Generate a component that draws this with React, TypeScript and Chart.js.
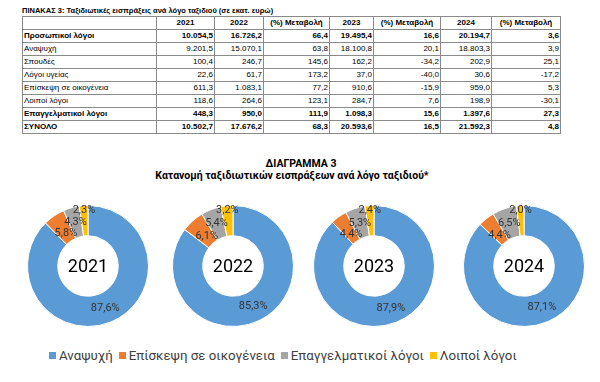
import React, { useEffect, useRef } from "react";
import { Chart, registerables } from "chart.js";

Chart.register(...registerables);

// ---------- Table data ----------
const tableTitle = "ΠΙΝΑΚΑΣ 3: Ταξιδιωτικές εισπράξεις ανά λόγο ταξιδιού (σε εκατ. ευρώ)";
const tableHeaders = ["", "2021", "2022", "(%) Μεταβολή", "2023", "(%) Μεταβολή", "2024", "(%) Μεταβολή"];
const rowLabels = [
  "Προσωπικοί λόγοι",
  "Αναψυχή",
  "Σπουδές",
  "Λόγοι υγείας",
  "Επίσκεψη σε οικογένεια",
  "Λοιποί λόγοι",
  "Επαγγελματικοί λόγοι",
  "ΣΥΝΟΛΟ",
];
const boldRows = [true, false, false, false, false, false, true, true];
const values2021 = ["10.054,5", "9.201,5", "100,4", "22,6", "611,3", "118,6", "448,3", "10.502,7"];
const values2022 = ["16.726,2", "15.070,1", "246,7", "61,7", "1.083,1", "264,6", "950,0", "17.676,2"];
const change2022 = ["66,4", "63,8", "145,6", "173,2", "77,2", "123,1", "111,9", "68,3"];
const values2023 = ["19.495,4", "18.100,8", "162,2", "37,0", "910,6", "284,7", "1.098,3", "20.593,6"];
const change2023 = ["16,6", "20,1", "-34,2", "-40,0", "-15,9", "7,6", "15,6", "16,5"];
const values2024 = ["20.194,7", "18.803,3", "202,9", "30,6", "959,0", "198,9", "1.397,6", "21.592,3"];
const change2024 = ["3,6", "3,9", "25,1", "-17,2", "5,3", "-30,1", "27,3", "4,8"];
const columnWidths = [134, 58, 49, 66, 44, 67, 51, 69];

// ---------- Chart data ----------
const chartTitle1 = "ΔΙΑΓΡΑΜΜΑ 3";
const chartTitle2 = "Κατανομή ταξιδιωτικών εισπράξεων ανά λόγο ταξιδιού*";
const categories = ["Αναψυχή", "Επίσκεψη σε οικογένεια", "Επαγγελματικοί λόγοι", "Λοιποί λόγοι"];
const colors = ["#5B9BD5", "#ED7D31", "#A5A5A5", "#FFC000"];
const years = ["2021", "2022", "2023", "2024"];
const share2021 = [87.6, 5.8, 4.3, 2.3];
const share2022 = [85.3, 6.1, 5.4, 3.2];
const share2023 = [87.9, 4.4, 5.3, 2.4];
const share2024 = [87.1, 4.4, 6.5, 2.0];
const shares = [share2021, share2022, share2023, share2024];
// radial position of each label within the ring (0 = inner edge, 1 = outer edge)
const labelRadial = [0.5, 0.3, 0.5, 0.85];
const centersX = [88, 233, 374, 524];
const centerY = 266;
const canvasSize = 150;
const ringPadding = 14;

const fmt = (v: number) => v.toFixed(1).replace(".", ",") + "%";

const labelPlugin = {
  id: "ringLabels",
  afterDraw(chart: any) {
    const ctx = chart.ctx;
    const meta = chart.getDatasetMeta(0);
    const data = chart.data.datasets[0].data as number[];
    ctx.save();
    ctx.font = "11px Roboto";
    ctx.fillStyle = "#333333";
    ctx.textAlign = "center";
    ctx.textBaseline = "middle";
    let cx = 0;
    let cy = 0;
    meta.data.forEach((arc: any, i: number) => {
      const p = arc.getProps(["x", "y", "startAngle", "endAngle", "innerRadius", "outerRadius"], true);
      cx = p.x;
      cy = p.y;
      const mid = (p.startAngle + p.endAngle) / 2;
      const r = p.innerRadius + labelRadial[i] * (p.outerRadius - p.innerRadius);
      ctx.fillText(fmt(data[i]), p.x + Math.cos(mid) * r, p.y + Math.sin(mid) * r);
    });
    ctx.font = "18px Roboto";
    ctx.fillStyle = "#000000";
    ctx.fillText(chart.options.plugins.centerText.text, cx, cy + 1);
    ctx.restore();
  },
};

function Donut({ index }: { index: number }) {
  const ref = useRef<HTMLCanvasElement | null>(null);
  useEffect(() => {
    if (!ref.current) return;
    const chart = new Chart(ref.current, {
      type: "doughnut",
      data: {
        labels: categories,
        datasets: [
          {
            data: shares[index],
            backgroundColor: colors,
            borderColor: "#ffffff",
            borderWidth: 1,
          },
        ],
      },
      options: {
        responsive: false,
        maintainAspectRatio: false,
        animation: false,
        cutout: "50%",
        rotation: 0,
        layout: { padding: ringPadding },
        plugins: {
          legend: { display: false },
          tooltip: { enabled: false },
          // @ts-ignore
          centerText: { text: years[index] },
        },
      } as any,
      plugins: [labelPlugin],
    });
    return () => chart.destroy();
  }, [index]);
  return (
    <canvas
      ref={ref}
      width={canvasSize}
      height={canvasSize}
      style={{
        position: "absolute",
        left: centersX[index] - canvasSize / 2,
        top: centerY - canvasSize / 2,
        width: canvasSize,
        height: canvasSize,
      }}
    />
  );
}

const cellBase: React.CSSProperties = {
  border: "1px solid #8a8a8a",
  height: 12,
  lineHeight: "12px",
  padding: "0 1px",
  fontSize: 8,
  whiteSpace: "nowrap",
  overflow: "hidden",
  color: "#000",
};

export default function App() {
  const columns = [values2021, values2022, change2022, values2023, change2023, values2024, change2024];
  return (
    <div
      style={{
        position: "absolute",
        left: 0,
        top: 0,
        width: 600,
        height: 382,
        background: "#ffffff",
        overflow: "hidden",
        fontFamily: "'Liberation Sans', Arial, sans-serif",
      }}
    >
      <div
        style={{
          position: "absolute",
          left: 22,
          top: 6,
          fontSize: 7.5,
          fontWeight: "bold",
          lineHeight: "9px",
          whiteSpace: "nowrap",
        }}
      >
        {tableTitle}
      </div>
      <table
        style={{
          position: "absolute",
          left: 22,
          top: 16,
          borderCollapse: "collapse",
          tableLayout: "fixed",
          width: columnWidths.reduce((a, b) => a + b, 0),
        }}
      >
        <colgroup>
          {columnWidths.map((w, i) => (
            <col key={i} style={{ width: w }} />
          ))}
        </colgroup>
        <tbody>
          <tr>
            {tableHeaders.map((h, i) => (
              <td key={i} style={{ ...cellBase, fontWeight: "bold", textAlign: "center" }}>
                {h}
              </td>
            ))}
          </tr>
          {rowLabels.map((label, r) => (
            <tr key={r}>
              <td style={{ ...cellBase, fontWeight: boldRows[r] ? "bold" : "normal", textAlign: "left" }}>{label}</td>
              {columns.map((col, c) => (
                <td
                  key={c}
                  style={{ ...cellBase, fontWeight: boldRows[r] ? "bold" : "normal", textAlign: "right" }}
                >
                  {col[r]}
                </td>
              ))}
            </tr>
          ))}
        </tbody>
      </table>

      <div
        style={{
          position: "absolute",
          left: 0,
          top: 158,
          width: 600,
          textAlign: "center",
          fontFamily: "Roboto, sans-serif",
          fontWeight: "bold",
          fontSize: 10.5,
          lineHeight: "12px",
          color: "#000",
        }}
      >
        <div style={{ position: "relative", left: 1 }}>{chartTitle1}</div>
        <div style={{ position: "relative", left: -8 }}>{chartTitle2}</div>
      </div>

      {years.map((_, i) => (
        <Donut key={i} index={i} />
      ))}

      <div
        style={{
          position: "absolute",
          left: 49,
          top: 346,
          height: 18,
          display: "flex",
          alignItems: "center",
          fontFamily: "Roboto, sans-serif",
          fontSize: 13.3,
          color: "#404040",
          whiteSpace: "nowrap",
        }}
      >
        {categories.map((c, i) => (
          <div key={i} style={{ display: "flex", alignItems: "center", marginRight: 6 }}>
            <span style={{ display: "inline-block", width: 7, height: 7, background: colors[i], marginRight: 3 }} />
            <span>{c}</span>
          </div>
        ))}
      </div>
    </div>
  );
}
